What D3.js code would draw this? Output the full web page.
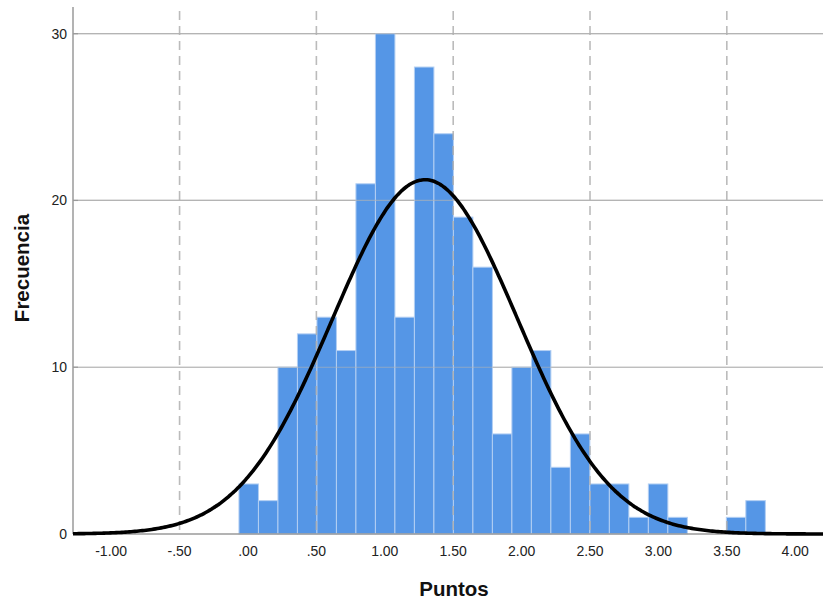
<!DOCTYPE html>
<html><head><meta charset="utf-8">
<script src="https://cdn.jsdelivr.net/npm/d3@7/dist/d3.min.js"></script>
<style>body{margin:0;background:#fff}svg{display:block;font-family:"Liberation Sans",Arial,sans-serif}</style>
</head><body><svg id="c" width="823" height="602"></svg>
<script>
const counts = [3,2,10,12,13,11,21,30,13,28,24,19,16,6,10,11,4,6,3,3,1,3,1,0,0,1,2];
const binStart = -0.066;
const binWidth = 0.1425;
const xTicks = [-1,-0.5,0,0.5,1,1.5,2,2.5,3,3.5,4];
const xTickLabels = ["-1.00","-.50",".00",".50","1.00","1.50","2.00","2.50","3.00","3.50","4.00"];
const refLines = [-0.5,0.5,1.5,2.5,3.5];
const yTicks = [0,10,20,30];
const fitMean = 1.294, fitSD = 0.677;

const N = d3.sum(counts);
const svg = d3.select("#c");
const L = 73, R = 823, T = 7, B = 534;
const x = d3.scaleLinear().domain([-1.279, 4.203]).range([L, R]);
const y = d3.scaleLinear().domain([0, 31.6]).range([B, T]);

const bins = counts.map((c,i)=>({x0: binStart+i*binWidth, x1: binStart+(i+1)*binWidth, c}));

// horizontal grid
svg.append("g").selectAll("line").data(yTicks.filter(d=>d>0)).join("line")
  .attr("x1",L).attr("x2",R).attr("y1",d=>y(d)).attr("y2",d=>y(d))
  .attr("stroke","#b4b4b4").attr("stroke-width",1.2);

// bars
svg.append("g").selectAll("rect").data(bins.filter(b=>b.c>0)).join("rect")
  .attr("x",b=>x(b.x0)).attr("width",b=>x(b.x1)-x(b.x0))
  .attr("y",b=>y(b.c)).attr("height",b=>y(0)-y(b.c))
  .attr("fill","#5596e6").attr("stroke","#b3cff3").attr("stroke-width",1);

// grid over bars (faint)
svg.append("g").selectAll("line").data(yTicks.filter(d=>d>0)).join("line")
  .attr("x1",L).attr("x2",R).attr("y1",d=>y(d)).attr("y2",d=>y(d))
  .attr("stroke","#b4b4b4").attr("stroke-width",1.2).attr("opacity",0.6);

// dashed reference lines
svg.append("g").selectAll("line").data(refLines).join("line")
  .attr("x1",d=>x(d)).attr("x2",d=>x(d)).attr("y1",T+4).attr("y2",B)
  .attr("stroke","#b0b0b0").attr("stroke-width",1.6).attr("stroke-dasharray","9,6")
  .attr("opacity",0.85);

// axes
svg.append("line").attr("x1",L).attr("x2",L).attr("y1",T).attr("y2",B)
  .attr("stroke","#9a9a9a").attr("stroke-width",1.5);
svg.append("line").attr("x1",L).attr("x2",R).attr("y1",B).attr("y2",B)
  .attr("stroke","#9a9a9a").attr("stroke-width",1.5);
svg.append("g").selectAll("line").data(yTicks).join("line")
  .attr("x1",L).attr("x2",L+5).attr("y1",d=>y(d)).attr("y2",d=>y(d))
  .attr("stroke","#9a9a9a").attr("stroke-width",1.2);

// normal curve
const pts = d3.range(0,401).map(i=>{
  const v = x.domain()[0] + (x.domain()[1]-x.domain()[0])*i/400;
  const z = (v-fitMean)/fitSD;
  return [v, N*binWidth*Math.exp(-0.5*z*z)/(fitSD*Math.sqrt(2*Math.PI))];
});
svg.append("path").datum(pts)
  .attr("d", d3.line().x(d=>x(d[0])).y(d=>y(d[1])).curve(d3.curveBasis))
  .attr("fill","none").attr("stroke","#000").attr("stroke-width",3.6);

// tick labels
svg.append("g").selectAll("text").data(yTicks).join("text")
  .attr("x",L-6).attr("y",d=>y(d)+5).attr("text-anchor","end")
  .attr("font-size",14).attr("fill","#222").text(d=>d);
svg.append("g").selectAll("text").data(xTicks).join("text")
  .attr("x",d=>x(d)).attr("y",556).attr("text-anchor","middle")
  .attr("font-size",14).attr("fill","#222").text((d,i)=>xTickLabels[i]);

svg.append("text").attr("x",454).attr("y",596).attr("text-anchor","middle")
  .attr("font-size",20.5).attr("font-weight","bold").attr("fill","#111").text("Puntos");
svg.append("text").attr("transform","translate(29,268) rotate(-90)").attr("text-anchor","middle")
  .attr("font-size",20.5).attr("font-weight","bold").attr("fill","#111").text("Frecuencia");
</script></body></html>
